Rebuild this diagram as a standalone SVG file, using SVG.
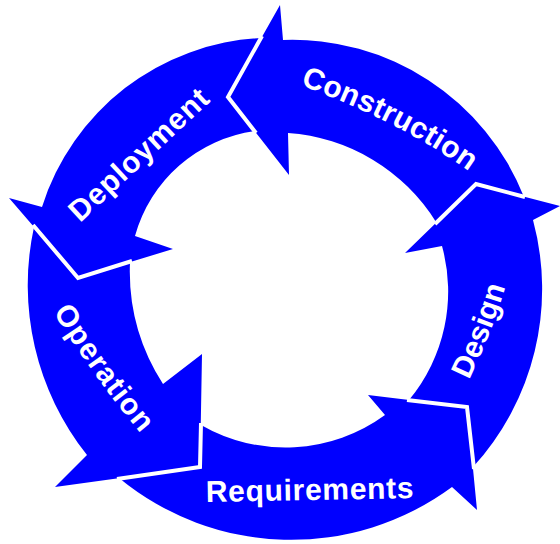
<svg xmlns="http://www.w3.org/2000/svg" width="560" height="544" viewBox="0 0 560 544">
  <style>
    .arrow { fill: #0000FF; stroke: none; }
    .sep { fill: none; stroke: #FFFFFF; stroke-width: 4; stroke-linejoin: miter; stroke-linecap: butt; }
    .label { fill: #FFFFFF; font-family: "Liberation Sans", Arial, sans-serif; font-weight: bold; font-size: 30px; }
  </style>
  <defs>
    <path id="p-construction" d="M300,85 Q401,122 470,172 L500,194"/>
    <path id="p-deployment" d="M80,223 L240,74"/>
    <path id="p-operation" d="M53,312 Q95,379 141,434 L170,468"/>
    <path id="p-design" d="M469,380 Q492,332 505,288 L513,260"/>
  </defs>
  <rect width="560" height="544" fill="#FFFFFF"/>

  <g id="construction">
    <path class="arrow" d="M228,97 L280,5 L283,40 A249,249 0 0 1 524,197 L476,184 L436,222 A190,190 0 0 0 288,133 L289,175 Z"/>
    <text class="label" letter-spacing="0.3"><textPath href="#p-construction">Construction</textPath></text>
  </g>

  <g id="deployment">
    <path class="arrow" d="M78,278 L173,249 L135,236 A145,145 0 0 1 255,131 L228,97 L261,38 A242,242 0 0 0 42,207 L9,198 Z"/>
    <text class="label" letter-spacing="0.8"><textPath href="#p-deployment">Deployment</textPath></text>
  </g>

  <g id="operation">
    <path class="arrow" d="M200,467 L55,487 L87,455 A273,273 0 0 1 34,227 L78,278 L130,262 A209,209 0 0 0 163,384 L202,354 Z"/>
    <text class="label" letter-spacing="1"><textPath href="#p-operation">Operation</textPath></text>
  </g>

  <g id="requirements">
    <path class="arrow" d="M467,407 L477,510 L452,487 A271,271 0 0 1 119,478 L200,467 L201,425 A169,169 0 0 0 385,415 L368,395 Z"/>
    <text class="label" x="206" y="502" letter-spacing="0.7" transform="rotate(-1.1 206 502)">Requirements</text>
  </g>

  <g id="design">
    <path class="arrow" d="M476,184 L560,206 L533,220 A264,264 0 0 1 473,467 L467,407 L409,400 A170,170 0 0 0 442,246 L405,253 Z"/>
    <text class="label"><textPath href="#p-design">Design</textPath></text>
  </g>

  <g id="connectors">
    <polyline class="sep" points="262,36 228,97 256,133"/>
    <polyline class="sep" points="525,197 476,184 435,224"/>
    <polyline class="sep" points="474,469 467,407 407,400"/>
    <polyline class="sep" points="117,479 200,467 201,423"/>
    <polyline class="sep" points="33,225 78,278 132,261"/>
  </g>
</svg>
